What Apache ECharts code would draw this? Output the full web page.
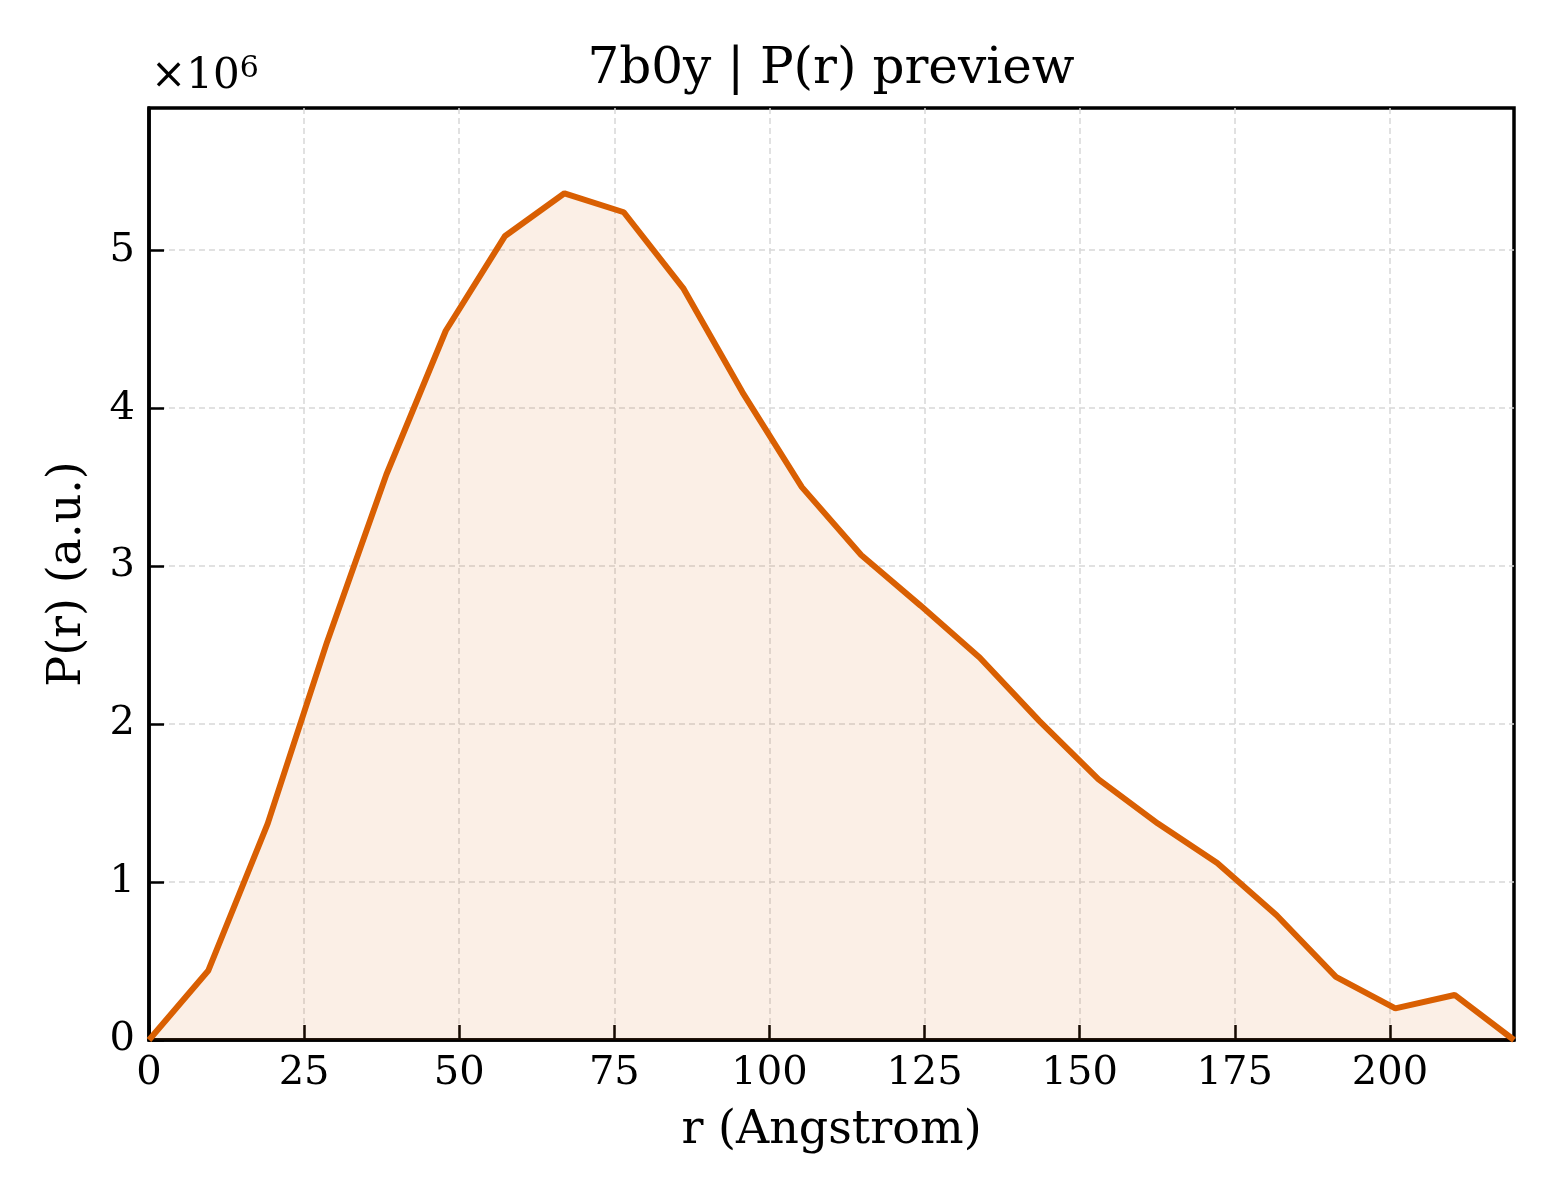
<!DOCTYPE html>
<html>
<head>
<meta charset="utf-8">
<script src="https://cdn.jsdelivr.net/npm/echarts@6/dist/echarts.min.js"></script>
<style>
html,body{margin:0;padding:0;background:#fff;}
#chart{width:1560px;height:1200px;}
</style>
</head>
<body>
<div id="chart"></div>
<script>
// r values (Angstrom)
const rValues = [0, 9.57, 19.13, 28.70, 38.26, 47.83, 57.39, 66.96, 76.52, 86.09, 95.65, 105.22,
  114.78, 124.35, 133.91, 143.48, 153.04, 162.61, 172.17, 181.74, 191.30, 200.87, 210.43, 220];
// P(r) values in units of 1e6
const prValues = [0, 0.44, 1.37, 2.52, 3.58, 4.49, 5.09, 5.36, 5.24, 4.76, 4.10, 3.50,
  3.07, 2.75, 2.42, 2.02, 1.65, 1.37, 1.12, 0.79, 0.40, 0.20, 0.285, 0];
const xTicks = [0, 25, 50, 75, 100, 125, 150, 175, 200];
const yTicks = [0, 1, 2, 3, 4, 5];
const titleText = '7b0y | P(r) preview';
const xLabel = 'r (Angstrom)';
const yLabel = 'P(r) (a.u.)';

const FONT = 'DejaVu Serif';
const chart = echarts.init(document.getElementById('chart'));
const data = rValues.map((r, i) => [r, prValues[i]]);

chart.setOption({
  animation: false,
  backgroundColor: '#ffffff',
  title: {
    text: titleText, left: 826, top: 40, textAlign: 'center',
    textStyle: {fontFamily: FONT, fontWeight: 'normal', fontSize: 50, color: '#000'}
  },
  grid: {left: 149, right: 46, top: 108, bottom: 160, show: true,
    borderColor: '#000', borderWidth: 3.5, backgroundColor: 'transparent'},
  xAxis: {
    type: 'value', min: 0, max: 220, interval: 25,
    name: xLabel, nameLocation: 'middle', nameGap: 68,
    nameTextStyle: {fontFamily: FONT, fontSize: 46, color: '#000'},
    axisLine: {show: true, onZero: false, lineStyle: {color: '#000', width: 3.5}},
    axisTick: {show: true, inside: true, length: 15, lineStyle: {color: '#000', width: 2.5},
      customValues: xTicks},
    axisLabel: {fontFamily: FONT, fontSize: 40, color: '#000', margin: 14,
      customValues: xTicks},
    splitLine: {show: true, lineStyle: {color: '#d8d8d8', width: 1.5, type: [6, 4]}}
  },
  yAxis: {
    type: 'value', min: 0, max: 5.9, interval: 1,
    name: yLabel, nameLocation: 'middle', nameGap: 58,
    nameTextStyle: {fontFamily: FONT, fontSize: 46, color: '#000'},
    axisLine: {show: true, onZero: false, lineStyle: {color: '#000', width: 3.5}},
    axisTick: {show: true, inside: true, length: 15, lineStyle: {color: '#000', width: 2.5},
      customValues: yTicks},
    axisLabel: {fontFamily: FONT, fontSize: 40, color: '#000', margin: 14,
      customValues: yTicks, formatter: v => String(Math.round(v))},
    splitLine: {show: true, lineStyle: {color: '#d8d8d8', width: 1.5, type: [6, 4]}}
  },
  graphic: [{
    type: 'text', left: 151, top: 54,
    style: {
      text: '{a|×10}{b|6}',
      rich: {
        a: {fontFamily: FONT, fontSize: 42, fill: '#000'},
        b: {fontFamily: FONT, fontSize: 30, fill: '#000', verticalAlign: 'top', padding: [0, 0, 16, 0]}
      }
    }
  }],
  series: [{
    type: 'line', data: data, symbol: 'none', smooth: false,
    lineStyle: {color: '#d95f02', width: 6},
    itemStyle: {color: '#d95f02'},
    areaStyle: {color: 'rgba(217,95,2,0.14)'},
    z: 3
  }]
});
</script>
</body>
</html>
